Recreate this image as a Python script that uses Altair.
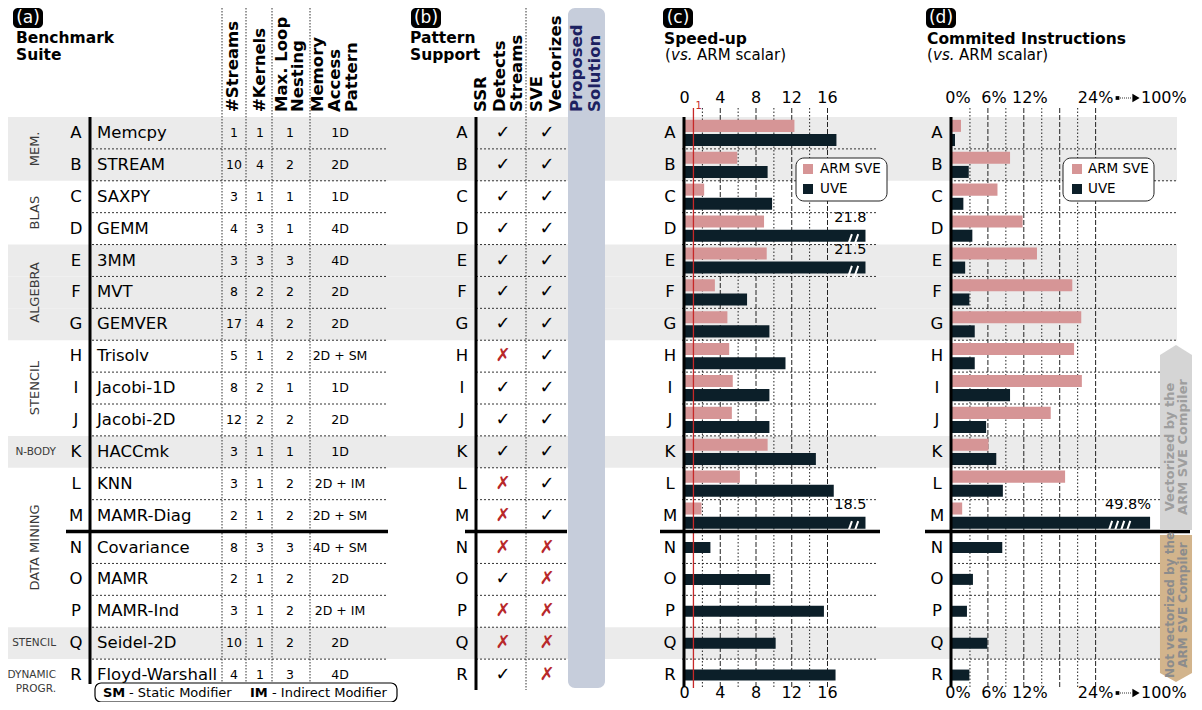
import altair as alt
import pandas as pd

FONT = "DejaVu Sans"
OX, OY = 8, 8          # page margin: layout constants below are page pixels
W, H = 1186, 694

# ---------------- data ----------------
LETTERS = list("ABCDEFGHIJKLMNOPQR")
BENCHMARKS = ["Memcpy", "STREAM", "SAXPY", "GEMM", "3MM", "MVT", "GEMVER", "Trisolv",
              "Jacobi-1D", "Jacobi-2D", "HACCmk", "KNN", "MAMR-Diag", "Covariance",
              "MAMR", "MAMR-Ind", "Seidel-2D", "Floyd-Warshall"]
STREAMS = [1, 10, 3, 4, 3, 8, 17, 5, 8, 12, 3, 3, 2, 8, 2, 3, 10, 4]
KERNELS = [1, 4, 1, 3, 3, 2, 4, 1, 2, 2, 1, 1, 1, 3, 1, 1, 1, 1]
LOOP_NESTING = [1, 2, 1, 1, 3, 2, 2, 2, 1, 2, 1, 2, 2, 3, 2, 2, 2, 3]
ACCESS_PATTERN = ["1D", "2D", "1D", "4D", "4D", "2D", "2D", "2D + SM", "1D", "2D", "1D",
                  "2D + IM", "2D + SM", "4D + SM", "2D", "2D + IM", "2D", "4D"]
SSR_DETECTS = [1, 1, 1, 1, 1, 1, 1, 0, 1, 1, 1, 0, 0, 0, 1, 0, 0, 1]
SVE_VECTORIZES = [1, 1, 1, 1, 1, 1, 1, 1, 1, 1, 1, 1, 1, 0, 0, 0, 0, 0]

GROUP_NAMES = ["MEM.", "BLAS", "ALGEBRA", "STENCIL", "N-BODY", "DATA MINING", "STENCIL", "DYNAMIC\nPROGR."]
GROUP_FIRST = ["A", "C", "E", "H", "K", "L", "Q", "R"]
GROUP_LAST = ["B", "D", "G", "J", "K", "P", "Q", "R"]
GROUP_SHADED = [True, False, True, False, True, False, True, False]

SERIES = ["ARM SVE", "UVE"]
SPEEDUP_SVE = [12.3, 5.9, 2.2, 8.9, 9.2, 3.4, 4.8, 5.0, 5.4, 5.3, 9.3, 6.2, 1.9,
               None, None, None, None, None]
SPEEDUP_UVE = [17.0, 9.3, 9.8, 21.8, 21.5, 7.0, 9.5, 11.3, 9.5, 9.5, 14.7, 16.7, 18.5,
               2.9, 9.6, 15.6, 10.2, 16.9]
SPEEDUP_BROKEN = ["D", "E", "M"]
SPEEDUP_TICKS = [0, 4, 8, 12, 16]
SPEEDUP_MAJOR = [4, 8, 12, 16]
SPEEDUP_MINOR = [2, 6, 10, 14]

INSTR_SVE = [1.5, 9.7, 7.6, 11.8, 14.2, 20.1, 21.6, 20.4, 21.7, 16.5, 6.1, 18.9, 1.7,
             None, None, None, None, None]
INSTR_UVE = [0.5, 2.8, 1.9, 3.4, 2.2, 2.9, 3.8, 3.8, 9.7, 5.7, 7.4, 8.5, 49.8,
             8.4, 3.5, 2.5, 5.9, 2.9]
INSTR_BROKEN = ["M"]
INSTR_TICKS = [0, 6, 12]
INSTR_LAST_TICK = 24
INSTR_MAJOR = [6, 12, 18, 24]
INSTR_MINOR = [3, 9, 15, 21]

# ---------------- style / layout ----------------
PINK = "#d69596"
DARK = "#0c1f29"
RED = "#c62828"
STRIPE = "#ebebeb"
NAVY = "#1c2161"
CROSS = "#b8282a"

SPEED_MAX, SPEED_CAP = 21.65, 20.25
INSTR_MAX, INSTR_CAP = 37.6, 33.1

ROW_SCALE = alt.Scale(domain=LETTERS, range=[117 - OY, 691 - OY], paddingInner=0, paddingOuter=0)
ROWNUM_SCALE = alt.Scale(domain=[0, 18], range=[117 - OY, 691 - OY], nice=False, zero=False)
OFF_SCALE = alt.Scale(domain=SERIES, paddingInner=0.15, paddingOuter=0.2)
SPEED_SCALE = alt.Scale(domain=[0, SPEED_MAX], range=[684.5 - OX, 878 - OX], nice=False, zero=False)
INSTR_SCALE = alt.Scale(domain=[0, INSTR_MAX], range=[952 - OX, 1177 - OX], nice=False, zero=False)
COLOR_SCALE = alt.Scale(domain=SERIES, range=[PINK, DARK])

Y_ROW = alt.Y("letter:N", scale=ROW_SCALE, axis=None)

# break-mark glyphs (white slanted strokes drawn on the cut bars)
BREAK2 = "M-0.75,0.85L-0.15,-0.85M0.15,0.85L0.75,-0.85"
BREAK4 = "M-1,0.55L-0.62,-0.55M-0.45,0.55L-0.07,-0.55M0.1,0.55L0.48,-0.55M0.65,0.55L1.03,-0.55"


def texts(rows, **kw):
    df = pd.DataFrame(rows, columns=["x", "y", "t"])
    df["x"] = df["x"] - OX
    df["y"] = df["y"] - OY
    props = dict(font=FONT, baseline="middle", align="left", fontSize=15, color="black")
    props.update(kw)
    return alt.Chart(df).mark_text(**props).encode(
        x=alt.X("x:Q", scale=None, axis=None), y=alt.Y("y:Q", scale=None, axis=None), text="t:N")


def boxes(rows, **kw):
    df = pd.DataFrame(rows, columns=["x", "x2", "y", "y2"]) - OX
    return alt.Chart(df).mark_rect(**kw).encode(
        x=alt.X("x:Q", scale=None, axis=None), x2="x2:Q",
        y=alt.Y("y:Q", scale=None, axis=None), y2="y2:Q")


def lines(rows, **kw):
    df = pd.DataFrame(rows, columns=["x", "x2", "y", "y2"]) - OX
    return alt.Chart(df).mark_rule(**kw).encode(
        x=alt.X("x:Q", scale=None, axis=None), x2="x2:Q",
        y=alt.Y("y:Q", scale=None, axis=None), y2="y2:Q")


layers = []

# ---- background stripes (shaded groups) ----
shaded = []
for name, f, l, s in zip(GROUP_NAMES, GROUP_FIRST, GROUP_LAST, GROUP_SHADED):
    if s:
        shaded += LETTERS[LETTERS.index(f):LETTERS.index(l) + 1]
layers.append(alt.Chart(pd.DataFrame({"letter": shaded})).mark_rect(color=STRIPE).encode(
    y=Y_ROW, x=alt.value(0), x2=alt.value(1177 - OX)))

# ---- proposed solution column ----
layers.append(boxes([(568, 605, 8, 688)], fill="#c6cddb", cornerRadius=7))

# ---- dotted column separators ----
layers.append(lines([(x, x, 8, 690) for x in (222, 246, 272, 310, 526)],
                    color="#333", strokeDash=[1.5, 1.5], strokeWidth=1))

# ---- dotted row separators ----
sep_df = pd.DataFrame({"letter": [l for l in LETTERS if l not in ("M", "R")]})
for x0, x1 in [(92, 388), (476, 566), (682, 878), (950, 1177)]:
    layers.append(alt.Chart(sep_df).mark_rule(color="#333", strokeDash=[2, 2], strokeWidth=1).encode(
        y=alt.Y("letter:N", scale=ROW_SCALE, axis=None, bandPosition=1),
        x=alt.value(x0 - OX), x2=alt.value(x1 - OX)))

# ---- gridlines (c) and (d) ----
def grid(vals, scale, dash, width=1.0, color="#222"):
    return alt.Chart(pd.DataFrame({"v": vals})).mark_rule(color=color, strokeDash=dash, strokeWidth=width).encode(
        x=alt.X("v:Q", scale=scale, axis=None), y=alt.value(108 - OY), y2=alt.value(687 - OY))

layers += [grid(SPEEDUP_MAJOR, SPEED_SCALE, [5, 2]), grid(SPEEDUP_MINOR, SPEED_SCALE, [1.5, 2]),
           grid(INSTR_MAJOR, INSTR_SCALE, [5, 2]), grid(INSTR_MINOR, INSTR_SCALE, [1.5, 2])]

# ---- bars ----
def bar_frames(sve, uve, broken, cap):
    pair, single = [], []
    for l, a, b in zip(LETTERS, sve, uve):
        shown_b = cap if l in broken else b
        if a is None:
            single.append(dict(letter=l, series="UVE", value=b, shown=shown_b))
        else:
            pair.append(dict(letter=l, series="ARM SVE", value=a, shown=a))
            pair.append(dict(letter=l, series="UVE", value=b, shown=shown_b))
    return pd.DataFrame(pair), pd.DataFrame(single)


def bar_layers(sve, uve, broken, cap, scale, suffix, brk_path, brk_size, brk_back):
    pair, single = bar_frames(sve, uve, broken, cap)
    x = alt.X("shown:Q", scale=scale, axis=None)
    out = [
        alt.Chart(pair).mark_bar().encode(
            x=x, y=Y_ROW, yOffset=alt.YOffset("series:N", scale=OFF_SCALE),
            color=alt.Color("series:N", scale=COLOR_SCALE, legend=None)),
        alt.Chart(single).mark_bar(height=11, color=DARK).encode(x=x, y=Y_ROW),
    ]
    br = pair[(pair["series"] == "UVE") & (pair["letter"].isin(broken))].copy()
    br["label"] = br["value"].map(lambda v: f"{v}{suffix}")
    br["lab_series"] = "ARM SVE"
    br["brk"] = br["shown"] - brk_back
    out.append(alt.Chart(br).mark_point(shape=brk_path, size=brk_size, filled=False, opacity=1,
                                        color="white", strokeWidth=2).encode(
        x=alt.X("brk:Q", scale=scale, axis=None), y=Y_ROW,
        yOffset=alt.YOffset("series:N", scale=OFF_SCALE)))
    out.append(alt.Chart(br).mark_text(font=FONT, fontSize=14.5, align="right", dx=1, dy=1,
                                       baseline="middle").encode(
        x=x, y=Y_ROW, yOffset=alt.YOffset("lab_series:N", scale=OFF_SCALE), text="label:N"))
    return out

layers += bar_layers(SPEEDUP_SVE, SPEEDUP_UVE, SPEEDUP_BROKEN, SPEED_CAP, SPEED_SCALE, "",
                     BREAK2, 196, 1.4)
layers += bar_layers(INSTR_SVE, INSTR_UVE, INSTR_BROKEN, INSTR_CAP, INSTR_SCALE, "%",
                     BREAK4, 484, 5.2)

# ---- red reference line at speed-up 1 ----
layers.append(alt.Chart(pd.DataFrame({"v": [1]})).mark_rule(color=RED, strokeWidth=1.3).encode(
    x=alt.X("v:Q", scale=SPEED_SCALE, axis=None), y=alt.value(108 - OY), y2=alt.value(688 - OY)))
layers.append(alt.Chart(pd.DataFrame({"v": [1]})).mark_text(
    text="1", color=RED, font=FONT, fontSize=10, align="left", dx=2, baseline="middle").encode(
    x=alt.X("v:Q", scale=SPEED_SCALE, axis=None), y=alt.value(106 - OY)))

# ---- thick horizontal line between M and N ----
for x0, x1 in [(66, 388), (465, 567), (660, 880), (925, 1190)]:
    layers.append(alt.Chart(pd.DataFrame({"letter": ["M"]})).mark_rule(color="black", strokeWidth=3.5).encode(
        y=alt.Y("letter:N", scale=ROW_SCALE, axis=None, bandPosition=1),
        x=alt.value(x0 - OX), x2=alt.value(x1 - OX)))

# ---- thick vertical lines ----
layers.append(lines([(90, 90, 117, 684), (476, 476, 117, 690), (684, 684, 117, 687), (951, 951, 117, 687)],
                    color="black", strokeWidth=3))

# ---- table text ----
def col_layer(values, xpage, size, align="center", color="black", weight="normal", letters=LETTERS):
    df = pd.DataFrame({"letter": letters, "t": [str(v) for v in values]})
    return alt.Chart(df).mark_text(font=FONT, fontSize=size, align=align, baseline="middle",
                                   color=color, fontWeight=weight).encode(
        y=Y_ROW, x=alt.value(xpage - OX), text="t:N")

for xl in (76, 462, 670, 937):
    layers.append(col_layer(LETTERS, xl, 16.5))
layers.append(col_layer(BENCHMARKS, 97, 16.5, align="left"))
layers.append(col_layer(STREAMS, 234, 12.5))
layers.append(col_layer(KERNELS, 260, 12.5))
layers.append(col_layer(LOOP_NESTING, 290, 12.5))
layers.append(col_layer(ACCESS_PATTERN, 340, 12.5))

for vals, xp in [(SSR_DETECTS, 503), (SVE_VECTORIZES, 547)]:
    ok = [l for l, v in zip(LETTERS, vals) if v]
    no = [l for l, v in zip(LETTERS, vals) if not v]
    layers.append(col_layer(["✓"] * len(ok), xp, 18, letters=ok))
    layers.append(col_layer(["✗"] * len(no), xp, 18, color=CROSS, letters=no))

# ---- group labels ----
grp = []
for name, f, l in zip(GROUP_NAMES, GROUP_FIRST, GROUP_LAST):
    a, b = LETTERS.index(f), LETTERS.index(l)
    grp.append(dict(name=name, pos=(a + b + 1) / 2, multi=b > a))
grp = pd.DataFrame(grp)
layers.append(alt.Chart(grp[grp["multi"]]).mark_text(
    font=FONT, fontSize=13, angle=270, align="center", baseline="middle", color="#3a3a3a").encode(
    y=alt.Y("pos:Q", scale=ROWNUM_SCALE, axis=None), x=alt.value(35 - OX), text="name:N"))
layers.append(alt.Chart(grp[~grp["multi"]]).mark_text(
    font=FONT, fontSize=10.5, align="right", baseline="middle", color="#3a3a3a", lineBreak="\n",
    lineHeight=14).encode(
    y=alt.Y("pos:Q", scale=ROWNUM_SCALE, axis=None), x=alt.value(56 - OX), text="name:N"))

# ---- axis labels (c) and (d) ----
for yl in (98, 693):
    layers.append(alt.Chart(pd.DataFrame({"v": SPEEDUP_TICKS})).mark_text(
        font=FONT, fontSize=16, baseline="middle").encode(
        x=alt.X("v:Q", scale=SPEED_SCALE, axis=None), y=alt.value(yl - OY), text="v:N"))
    tdf = pd.DataFrame({"v": INSTR_TICKS, "t": [f"{v}%" for v in INSTR_TICKS]})
    layers.append(alt.Chart(tdf).mark_text(font=FONT, fontSize=16, baseline="middle", dx=6).encode(
        x=alt.X("v:Q", scale=INSTR_SCALE, axis=None), y=alt.value(yl - OY), text="t:N"))
    ldf = pd.DataFrame({"v": [INSTR_LAST_TICK], "t": [f"{INSTR_LAST_TICK}%"]})
    layers.append(alt.Chart(ldf).mark_text(font=FONT, fontSize=16, baseline="middle").encode(
        x=alt.X("v:Q", scale=INSTR_SCALE, axis=None), y=alt.value(yl - OY), text="t:N"))
    layers.append(lines([(1120, 1131, yl, yl)], color="#999", strokeDash=[1, 1], strokeWidth=2))
    layers.append(alt.Chart(pd.DataFrame({"x": [1117.5 - OX], "y": [yl - OY]})).mark_point(
        shape="square", size=14, filled=True, opacity=1, color="black").encode(
        x=alt.X("x:Q", scale=None, axis=None), y=alt.Y("y:Q", scale=None, axis=None)))
    layers.append(alt.Chart(pd.DataFrame({"x": [1136 - OX], "y": [yl - OY]})).mark_point(
        shape="triangle-right", size=70, filled=True, opacity=1, color="black").encode(
        x=alt.X("x:Q", scale=None, axis=None), y=alt.Y("y:Q", scale=None, axis=None)))
    layers.append(texts([(1141, yl, "100%")], fontSize=16))

# ---- legends ----
layers.append(boxes([(796, 887, 158, 201), (1063, 1154, 158, 201)],
                    fill="white", stroke="#222", strokeWidth=1, cornerRadius=8))
leg = pd.DataFrame({"series": SERIES * 2,
                    "x": [803, 803, 1072, 1072], "y": [164, 184, 164, 184]})
leg["x2"] = leg["x"] + 10
leg["y2"] = leg["y"] + 10
for c in ("x", "x2", "y", "y2"):
    leg[c] = leg[c] - OX
layers.append(alt.Chart(leg).mark_rect().encode(
    x=alt.X("x:Q", scale=None, axis=None), x2="x2:Q", y=alt.Y("y:Q", scale=None, axis=None), y2="y2:Q",
    color=alt.Color("series:N", scale=COLOR_SCALE, legend=None)))
layers.append(texts([(820, 169, SERIES[0]), (820, 189, SERIES[1]),
                     (1088, 169, SERIES[0]), (1088, 189, SERIES[1])], fontSize=13.5))

# ---- side arrows (d) ----
UP_PATH = "M0,-1L0.173,-0.892L0.173,1L-0.173,1L-0.173,-0.892Z"
DOWN_PATH = "M-0.218,-1L0.218,-1L0.218,0.878L0,1L-0.218,0.878Z"
layers.append(alt.Chart(pd.DataFrame({"x": [1176 - OX], "y": [437.5 - OY]})).mark_point(
    shape=UP_PATH, size=185 ** 2, filled=True, opacity=1, color="#d5d5d5", strokeWidth=0).encode(
    x=alt.X("x:Q", scale=None, axis=None), y=alt.Y("y:Q", scale=None, axis=None)))
layers.append(alt.Chart(pd.DataFrame({"x": [1176 - OX], "y": [608.5 - OY]})).mark_point(
    shape=DOWN_PATH, size=147 ** 2, filled=True, opacity=1, color="#d2b48c", strokeWidth=0).encode(
    x=alt.X("x:Q", scale=None, axis=None), y=alt.Y("y:Q", scale=None, axis=None)))
layers.append(texts([(1170, 447, "Vectorized by the"), (1183, 447, "ARM SVE Compiler")],
                    angle=270, align="center", fontWeight="bold", fontSize=13, color="#9e9e9e"))
layers.append(texts([(1170, 605, "Not vectorized by the"), (1183, 605, "ARM SVE Compiler")],
                    angle=270, align="center", fontWeight="bold", fontSize=12, color="#8c8c8c"))

# ---- headers ----
layers.append(boxes([(13, 43, 8, 28), (411, 441, 8, 28), (663, 693, 8, 28), (926, 956, 8, 28)],
                    fill="black", cornerRadius=5))
layers.append(texts([(28, 18, "(a)"), (426, 18, "(b)"), (678, 18, "(c)"), (941, 18, "(d)")],
                    align="center", color="white", fontSize=17))
layers.append(texts([(16, 38, "Benchmark"), (16, 55, "Suite"), (410, 38, "Pattern"), (410, 55, "Support"),
                     (664, 39, "Speed-up"), (927, 39, "Commited Instructions")],
                    fontWeight="bold", fontSize=15.5))
layers.append(texts([(665, 55, "("), (697, 55, "ARM scalar)"), (927, 55, "("), (959, 55, "ARM scalar)")],
                    fontSize=15))
layers.append(texts([(671, 55, "vs."), (933, 55, "vs.")], fontSize=15, fontStyle="italic"))
layers.append(texts([(233, 112, "#Streams"), (260, 112, "#Kernels"), (282, 112, "Max. Loop"),
                     (298, 112, "Nesting"), (318, 112, "Memory"), (335, 112, "Access"),
                     (352, 112, "Pattern"), (481, 112, "SSR"), (500, 112, "Detects"),
                     (517, 112, "Streams"), (537, 112, "SVE"), (556, 112, "Vectorizes")],
                    angle=270, fontWeight="bold", fontSize=16.5))
layers.append(texts([(577, 112, "Proposed"), (595, 112, "Solution")],
                    angle=270, fontWeight="bold", fontSize=16.5, color=NAVY))

# ---- footer ----
layers.append(boxes([(95, 397, 683, 702)], fill="white", stroke="black", strokeWidth=1.2, cornerRadius=6))
layers.append(texts([(103, 692.5, "SM"), (250, 692.5, "IM")], fontWeight="bold", fontSize=13))
layers.append(texts([(129, 692.5, "- Static Modifier"), (272, 692.5, "- Indirect Modifier")], fontSize=13))

chart = alt.layer(*layers).resolve_scale(
    x="independent", y="independent", yOffset="independent"
).properties(
    width=W, height=H, padding=0, autosize="none", background="white"
).configure_view(stroke=None)

chart.save("out.html", embed_options={"renderer": "svg", "actions": False})
